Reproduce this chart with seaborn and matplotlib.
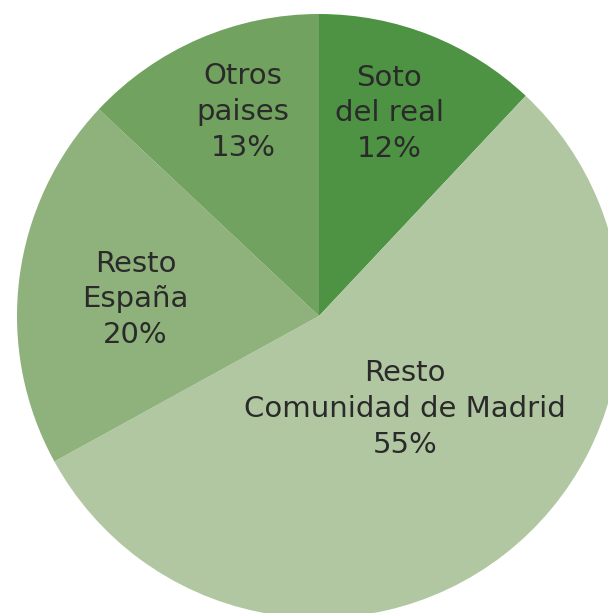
import numpy as np
import matplotlib
matplotlib.use("Agg")
import matplotlib.pyplot as plt
import seaborn as sns

categories = ["Soto\ndel real", "Resto\nComunidad de Madrid", "Resto\nEspaña", "Otros\npaises"]
values = [12, 55, 20, 13]
colors = ["#4e9343", "#b1c7a1", "#8fb27c", "#72a25f"]
label_dist = [0.71, 0.42, 0.61, 0.72]
label_angle_shift = [2.5, 5.0, 2.0, -3.0]

sns.set_theme(style="white")
plt.rcParams["font.family"] = ["DejaVu Sans"]

fig = plt.figure(figsize=(6.08, 6.13), dpi=100)
W, H = 608, 613
cx, cy, r = 319, 316, 302
ax = fig.add_axes([(cx - r) / W, (H - cy - r) / H, 2 * r / W, 2 * r / H])

wedges, _ = ax.pie(values, colors=colors, startangle=90, counterclock=False,
                   radius=1, wedgeprops=dict(linewidth=0), center=(0, 0), frame=False)
ax.set_xlim(-1, 1)
ax.set_ylim(-1, 1)
ax.axis("off")
for w in wedges:
    w.set_clip_on(False)

for w, cat, v, d, s in zip(wedges, categories, values, label_dist, label_angle_shift):
    mid = np.deg2rad((w.theta1 + w.theta2) / 2 + s)
    ax.text(d * np.cos(mid), d * np.sin(mid), f"{cat}\n{v}%", ha="center", va="center",
            fontsize=21, color="#2a2a2a", linespacing=1.35, clip_on=False)

fig.savefig("out.png", dpi=100)
